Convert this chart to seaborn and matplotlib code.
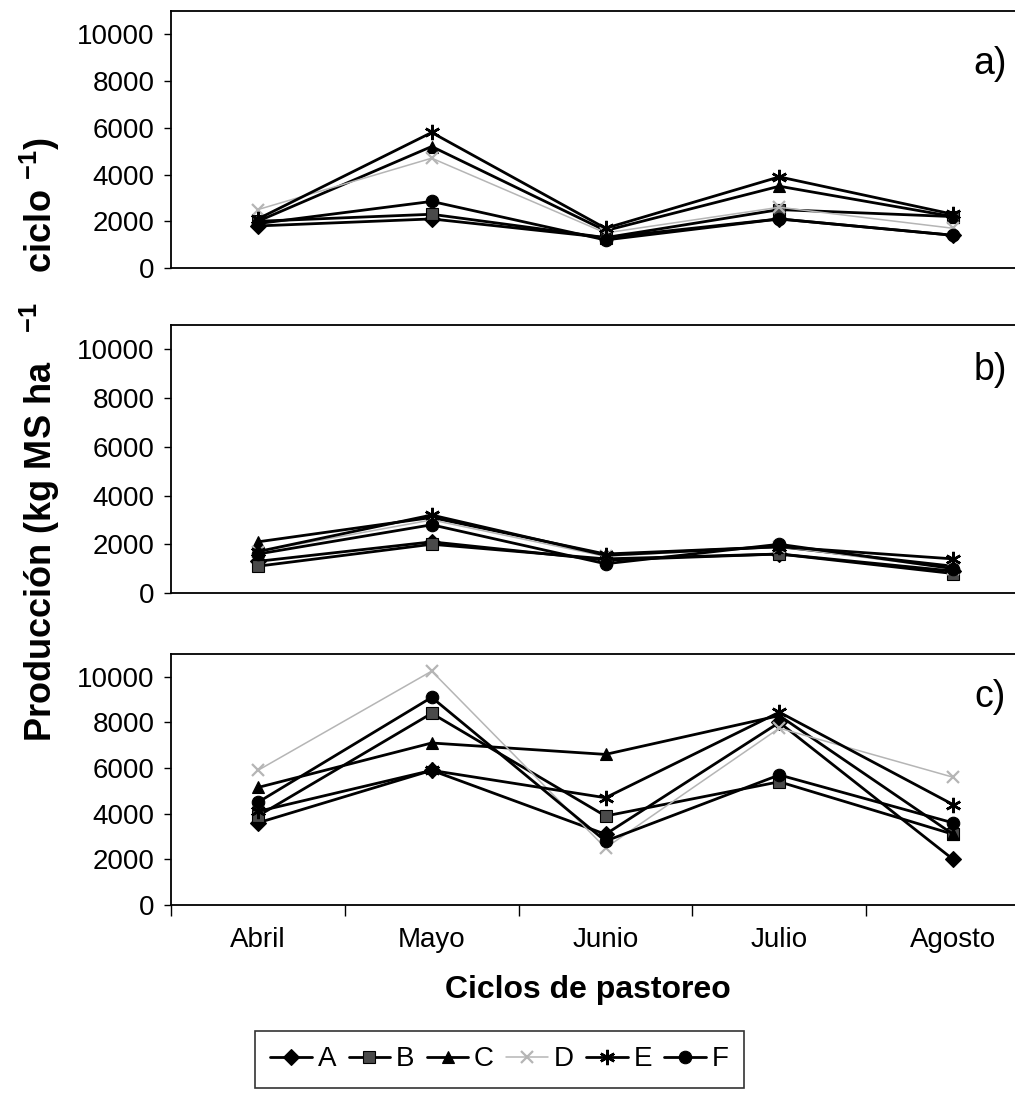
import numpy as np
import pandas as pd
import matplotlib
matplotlib.use("Agg")
import matplotlib.pyplot as plt
from matplotlib.lines import Line2D
import seaborn as sns

# ---------------- data ----------------
meses = ["Abril", "Mayo", "Junio", "Julio", "Agosto"]
tratamientos = ["A", "B", "C", "D", "E", "F"]

# panel a)
a_A = [1800, 2100, 1300, 2100, 1400]
a_B = [2000, 2300, 1300, 2500, 2200]
a_C = [2000, 5200, 1600, 3500, 2200]
a_D = [2500, 4700, 1500, 2600, 1700]
a_E = [2100, 5800, 1700, 3900, 2300]
a_F = [1900, 2850, 1200, 2100, 1400]

# panel b)
b_A = [1300, 2100, 1350, 1600, 900]
b_B = [1100, 2000, 1400, 1600, 800]
b_C = [2100, 3100, 1600, 1900, 1100]
b_D = [1700, 3000, 1500, 1900, 1000]
b_E = [1700, 3200, 1550, 1900, 1400]
b_F = [1600, 2800, 1200, 2000, 1000]

# panel c)
c_A = [3600, 5900, 3100, 8000, 2000]
c_B = [3900, 8400, 3900, 5400, 3100]
c_C = [5150, 7100, 6600, 8300, 3100]
c_D = [5900, 10250, 2500, 7750, 5600]
c_E = [4100, 5900, 4700, 8450, 4400]
c_F = [4500, 9100, 2800, 5700, 3600]

paneles = {
    "a)": [a_A, a_B, a_C, a_D, a_E, a_F],
    "b)": [b_A, b_B, b_C, b_D, b_E, b_F],
    "c)": [c_A, c_B, c_C, c_D, c_E, c_F],
}

y_ticks = [0, 2000, 4000, 6000, 8000, 10000]

# ---------------- style ----------------
sns.set_theme(style="white")
plt.rcParams["font.family"] = ["Liberation Sans", "DejaVu Sans"]
plt.rcParams["mathtext.fontset"] = "custom"
plt.rcParams["mathtext.rm"] = "Liberation Sans"
plt.rcParams["mathtext.bf"] = "Liberation Sans:bold"
plt.rcParams["text.color"] = "black"
plt.rcParams["xtick.color"] = "black"
plt.rcParams["ytick.color"] = "black"
plt.rcParams["axes.labelcolor"] = "black"

palette = {"A": "black", "B": "black", "C": "black", "D": "#b5b5b5", "E": "black", "F": "black"}
markers = {"A": "D", "B": "s", "C": "^", "D": "x", "E": (6, 2, 0), "F": "o"}
face = {"A": "black", "B": "#4a4a4a", "C": "black", "D": "#b5b5b5", "E": "black", "F": "black"}
msize = {"A": 8, "B": 8, "C": 9, "D": 9, "E": 11, "F": 9}
lw = {"A": 2.0, "B": 2.0, "C": 2.0, "D": 1.1, "E": 2.0, "F": 2.0}
mew = {"A": 0.8, "B": 0.8, "C": 0.8, "D": 1.6, "E": 1.8, "F": 0.8}

W, H = 1015, 1101
fig = plt.figure(figsize=(W / 100, H / 100), dpi=100)

left_px, right_px = 171, 1040
boxes = [(11, 268), (325, 593), (654, 905)]
label_y = {"a)": 64, "b)": 370, "c)": 697}

axes = []
for (label, series), (top, bot) in zip(paneles.items(), boxes):
    ax = fig.add_axes([left_px / W, 1 - bot / H, (right_px - left_px) / W, (bot - top) / H])
    rows = []
    for t, vals in zip(tratamientos, series):
        for m, v in zip(meses, vals):
            rows.append({"mes": m, "valor": v, "trat": t})
    df = pd.DataFrame(rows)
    for t in tratamientos:
        sub = df[df["trat"] == t]
        sns.lineplot(data=sub, x="mes", y="valor", ax=ax, color=palette[t],
                     marker=markers[t], markersize=msize[t], linewidth=lw[t],
                     markerfacecolor=face[t], markeredgecolor=palette[t],
                     markeredgewidth=mew[t], label=t, legend=False, sort=False)
    ax.set_xlim(-0.5, 4.5)
    ax.set_ylim(0, 11000)
    ax.set_yticks(y_ticks)
    ax.set_yticklabels([str(v) for v in y_ticks], fontsize=20)
    ax.set_xlabel("")
    ax.set_ylabel("")
    for s in ["left", "bottom", "top"]:
        ax.spines[s].set_color("black")
        ax.spines[s].set_linewidth(1.3)
    ax.spines["right"].set_visible(False)
    ax.tick_params(axis="y", direction="out", length=5, width=1, color="black", pad=7, left=True)
    axes.append(ax)
    fig.text(990 / W, 1 - label_y[label] / H, label, fontsize=27, ha="center", va="center")

# x axis: ticks at category boundaries only on bottom panel
for i, ax in enumerate(axes):
    ax.set_xticks(np.arange(-0.5, 5.0, 1.0))
    ax.set_xticks(np.arange(0, 5), minor=True)
    if i < 2:
        ax.tick_params(axis="x", which="both", length=0, labelbottom=False)
    else:
        ax.set_xticklabels([])
        ax.set_xticklabels(meses, minor=True, fontsize=20)
        ax.tick_params(axis="x", which="major", direction="out", length=8, width=1, color="black", bottom=True)
        ax.tick_params(axis="x", which="minor", length=0, pad=16)

fig.text(588 / W, 1 - 990 / H, "Ciclos de pastoreo", fontsize=23, fontweight="bold",
         ha="center", va="center")
fig.text(40 / W, 1 - 440 / H,
         r"Producción (kg MS ha   $^{\mathbf{-1}}$   ciclo $^{\mathbf{-1}}$)",
         fontsize=26, fontweight="bold", rotation=90, ha="center", va="center")

# legend
handles = []
for t in tratamientos:
    handles.append(Line2D([0], [0], color=palette[t], marker=markers[t], markersize=msize[t],
                          linewidth=lw[t], markerfacecolor=face[t], markeredgecolor=palette[t],
                          markeredgewidth=mew[t]))
leg = fig.legend(handles, tratamientos, loc="upper left", bbox_to_anchor=(255 / W, 1 - 1031 / H),
                 ncol=6, frameon=True, fancybox=False, edgecolor="black", fontsize=20,
                 handlelength=1.5, handletextpad=0.2, columnspacing=0.45, borderpad=0.55,
                 borderaxespad=0)
leg.get_frame().set_linewidth(1.2)

fig.savefig("out.png", dpi=100, facecolor="white")
